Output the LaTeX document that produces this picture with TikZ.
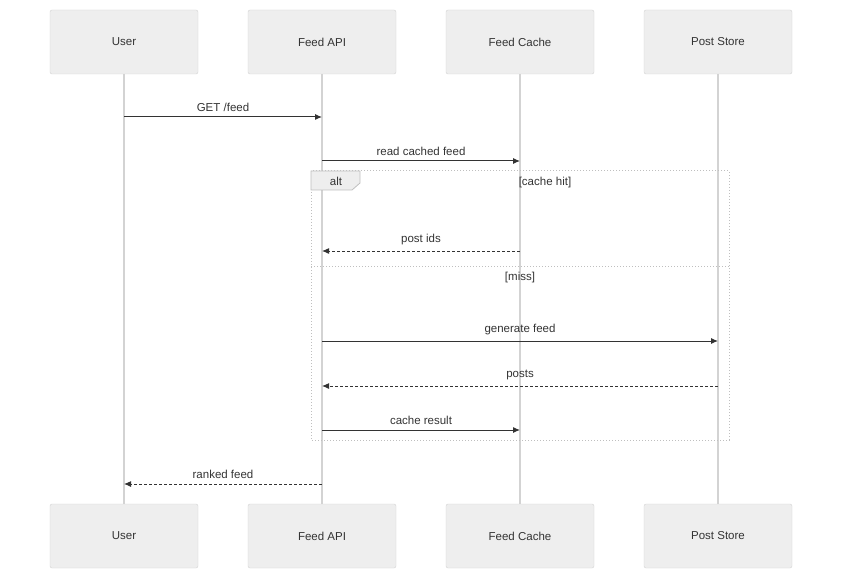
\documentclass[tikz,border=0pt]{standalone}
\usepackage{fontspec}
\setmainfont{Liberation Sans}
\usetikzlibrary{arrows.meta}
\definecolor{actfill}{HTML}{EEEEEE}
\definecolor{actline}{HTML}{D3D3D3}
\definecolor{msgcol}{HTML}{333333}
\tikzset{
  actor/.style={draw=actline,fill=actfill,rounded corners=2pt,minimum width=148pt,minimum height=64pt,font=\fontsize{11.5pt}{13pt}\selectfont,text=msgcol},
  life/.style={actline,line width=1.2pt},
  msg/.style={msgcol,line width=1pt,-{Latex[length=7pt,width=6pt]}},
  reply/.style={msg,dashed,dash pattern=on 3pt off 2pt},
  lbl/.style={font=\fontsize{11.5pt}{13pt}\selectfont,text=msgcol},
  frame/.style={draw=black!25,line width=1pt,dotted}
}
\begin{document}
\begin{tikzpicture}[x=1pt,y=-1pt]
\useasboundingbox (0,0) rectangle (850,585);

% actors
\foreach \nm/\xx/\txt in {user/124/User,api/322/Feed API,cache/520/Feed Cache,store/718/Post Store}{
  \node[actor] (\nm T) at (\xx,42) {\txt};
  \node[actor] (\nm B) at (\xx,536) {\txt};
  \draw[life] (\nm T) -- (\nm B);
}

% alt frame
\draw[frame] (311,171) rectangle (729,440);
\draw[frame] (311,266) -- (729,266);
\draw[draw=black!25,fill=actfill,line width=0.8pt] (311,171) -- (360,171) -- (360,183) -- (352,190) -- (311,190) -- cycle;
\node[lbl] (altL) at (336,181) {alt};
\node[lbl] (hitL) at (545,183) {[cache hit]};
\node[lbl] (missL) at (520,278) {[miss]};

% messages
\foreach \nm/\yy in {1/117,2/161,3/251,4/341,5/386,6/430,7/484}{
  \coordinate (u\nm) at (124,\yy);
  \coordinate (a\nm) at (322,\yy);
  \coordinate (c\nm) at (520,\yy);
  \coordinate (s\nm) at (718,\yy);
}
\draw[msg] (u1) -- node[lbl,above=2pt] {GET /feed} (a1);
\draw[msg] (a2) -- node[lbl,above=2pt] {read cached feed} (c2);
\draw[reply] (c3) -- node[lbl,above=2pt] {post ids} (a3);
\draw[msg] (a4) -- node[lbl,above=2pt] {generate feed} (s4);
\draw[reply] (s5) -- node[lbl,above=2pt] {posts} (a5);
\draw[msg] (a6) -- node[lbl,above=2pt] {cache result} (c6);
\draw[reply] (a7) -- node[lbl,above=2pt] {ranked feed} (u7);
\end{tikzpicture}
\end{document}
